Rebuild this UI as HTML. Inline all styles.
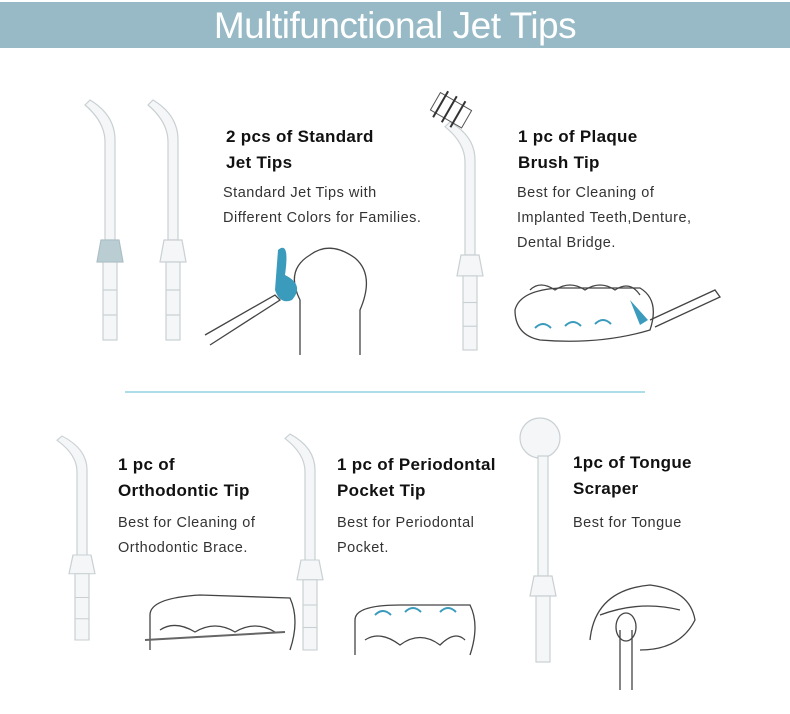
<!DOCTYPE html>
<html><head><meta charset="utf-8"><style>
body{margin:0;width:790px;height:714px;background:#fff;position:relative;overflow:hidden;font-family:"Liberation Sans",Arial,sans-serif}
.hd{position:absolute;left:0;top:2px;width:790px;height:46px;background:#97bac6;color:#fff;font-size:37px;text-align:center;line-height:48px;letter-spacing:-0.5px}
.t{position:absolute;font-weight:bold;font-size:17px;color:#111;line-height:26px;letter-spacing:0.3px}
.d{position:absolute;font-size:14.5px;color:#333;line-height:25px;letter-spacing:0.5px}
svg{position:absolute;left:0;top:0}
</style></head><body>
<div class="hd">Multifunctional Jet Tips</div>
<svg width="790" height="714">
<defs>
<g id="tip" fill="#f4f6f7" stroke="#c9d0d3" stroke-width="1.2">
<path d="M-25,-135 L-20,-140 Q5,-125 5,-100 L5,0 L-5,0 L-5,-98 Q-5,-118 -25,-135Z"/>
<path d="M-9,0 L9,0 L13,22 L-13,22Z"/>
<rect x="-7" y="22" width="14" height="78"/>
<line x1="-7" y1="50" x2="7" y2="50"/><line x1="-7" y1="75" x2="7" y2="75"/>
</g>
</defs>
<use href="#tip" transform="translate(110,240)"/>
<path d="M101,240 L119,240 L123,262 L97,262Z" fill="#b9cdd2" stroke="#a9bec4"/>
<use href="#tip" transform="translate(173,240)"/>
<use href="#tip" transform="translate(470,255) scale(1,0.95)"/>
<g transform="rotate(30 450 112)"><rect x="432" y="100" width="36" height="20" fill="#fff" stroke="#555"/><line x1="438" y1="95" x2="438" y2="125" stroke="#333" stroke-width="2"/><line x1="448" y1="95" x2="448" y2="125" stroke="#333" stroke-width="2"/><line x1="458" y1="95" x2="458" y2="125" stroke="#333" stroke-width="2"/></g>
<use href="#tip" transform="translate(82,555) scale(1,0.85)"/>
<use href="#tip" transform="translate(310,560) scale(1,0.9)"/>
<g fill="#f4f6f7" stroke="#c9d0d3" stroke-width="1.2">
<circle cx="540" cy="438" r="20"/>
<rect x="538" y="456" width="10" height="120"/>
<path d="M534,576 L552,576 L556,596 L530,596Z"/>
<rect x="536" y="596" width="14" height="66"/>
</g>
<line x1="125" y1="392" x2="645" y2="392" stroke="#8fd3e0" stroke-width="1.5"/>
<g fill="none" stroke="#444" stroke-width="1.3">
<path d="M300,355 L300,300 Q285,270 310,255 Q330,240 355,258 Q375,275 360,310 L360,355"/>
<path d="M205,335 L275,295 L280,300 L210,345"/>
<path d="M515,310 Q520,290 560,288 L640,288 Q660,300 650,330 Q600,345 540,340 Q515,335 515,310Z"/>
<path d="M530,290 Q540,280 555,290 Q570,280 585,290 Q600,280 615,290 Q630,280 640,295"/>
<path d="M650,320 L715,290 L720,297 L655,327"/>
<path d="M150,650 L150,615 Q150,598 200,595 L290,598 Q300,620 290,650"/>
<path d="M160,630 Q175,620 195,632 Q215,620 235,632 Q255,620 275,632"/>
<path d="M355,655 L355,620 Q355,605 400,605 L470,605 Q480,625 470,655"/>
<path d="M365,640 Q380,630 400,645 Q420,630 440,645 Q455,630 465,640"/>
<path d="M590,640 Q595,590 650,585 Q690,590 695,620 Q680,650 640,650"/>
<path d="M600,615 Q640,600 680,610"/>
<path d="M620,630 L620,690 M632,630 L632,690"/>
<ellipse cx="626" cy="627" rx="10" ry="14"/>
</g>
<path d="M145,640 L285,632" stroke="#666" stroke-width="2"/>
<g fill="#3a9bbd"><path d="M278,250 Q290,240 285,275 Q305,285 292,300 Q280,305 275,290 Z"/><path d="M630,300 L648,320 L640,325 Z"/></g>
<g fill="none" stroke="#3a9bbd" stroke-width="2"><path d="M535,328 q8,-8 16,0"/><path d="M565,326 q8,-8 16,0"/><path d="M595,324 q8,-8 16,0"/><path d="M375,615 q8,-8 16,0"/><path d="M405,612 q8,-8 16,0"/><path d="M440,612 q8,-8 16,0"/></g>
</svg>
<div class="t" style="left:226px;top:124px">2 pcs of Standard<br>Jet Tips</div>
<div class="d" style="left:223px;top:181px">Standard Jet Tips with<br>Different Colors for Families.</div>
<div class="t" style="left:518px;top:124px">1 pc of Plaque<br>Brush Tip</div>
<div class="d" style="left:517px;top:181px">Best for Cleaning of<br>Implanted Teeth,Denture,<br>Dental Bridge.</div>
<div class="t" style="left:118px;top:452px">1 pc of<br>Orthodontic Tip</div>
<div class="d" style="left:118px;top:511px">Best for Cleaning of<br>Orthodontic Brace.</div>
<div class="t" style="left:337px;top:452px">1 pc of Periodontal<br>Pocket Tip</div>
<div class="d" style="left:337px;top:511px">Best for Periodontal<br>Pocket.</div>
<div class="t" style="left:573px;top:450px">1pc of Tongue<br>Scraper</div>
<div class="d" style="left:573px;top:511px">Best for Tongue</div>
</body></html>
